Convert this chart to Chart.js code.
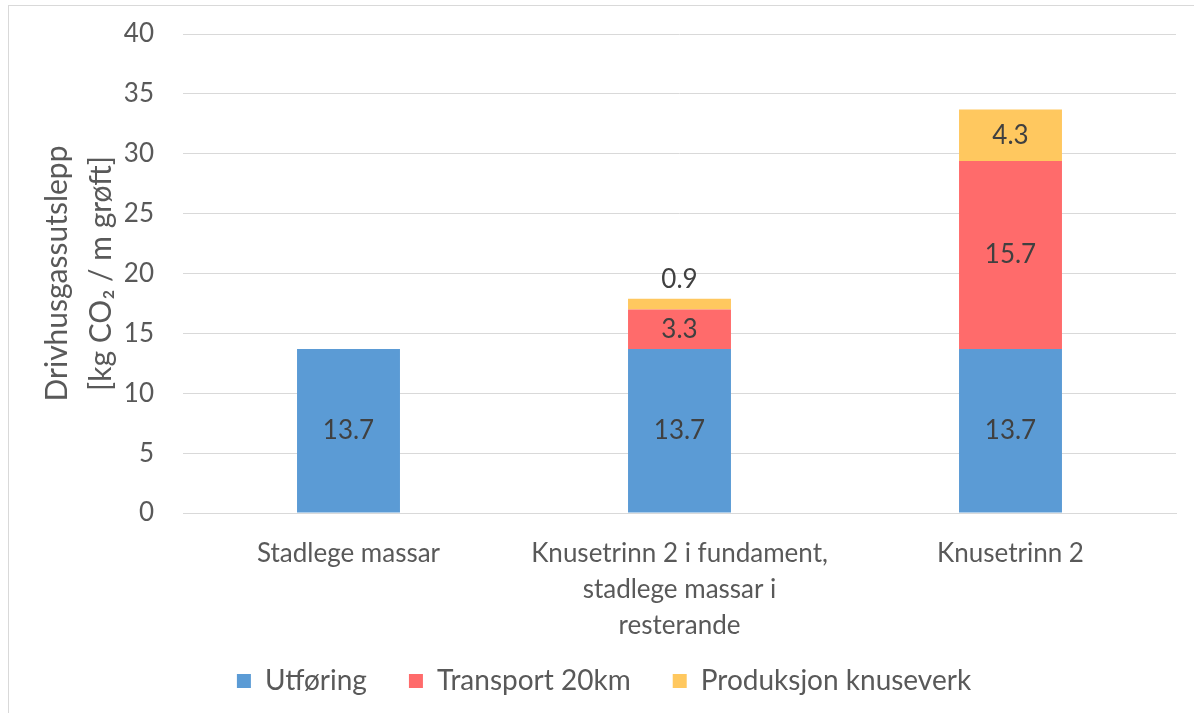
<!DOCTYPE html>
<html>
<head>
<meta charset="utf-8">
<script src="https://cdn.jsdelivr.net/npm/chart.js"></script>
<style>
  html, body { margin: 0; padding: 0; background: #fff; overflow: hidden; }
  #wrap { position: relative; width: 1194px; height: 740px; }
  #frame { position: absolute; left: 8px; top: 5px; width: 1300px; height: 800px;
           border-left: 1px solid #d9d9d9; border-top: 1px solid #d9d9d9; }
</style>
</head>
<body>
<div id="wrap">
  <div id="frame"></div>
  <canvas id="chart" width="1194" height="740"></canvas>
</div>
<script>
const categories = [
  ['Stadlege massar'],
  ['Knusetrinn 2 i fundament,', 'stadlege massar i', 'resterande'],
  ['Knusetrinn 2']
];
const utforing = [13.7, 13.7, 13.7];
const transport = [null, 3.3, 15.7];
const produksjon = [null, 0.9, 4.3];
const yTicks = [0, 5, 10, 15, 20, 25, 30, 35, 40];

const FONT = 'Lato, "Open Sans", sans-serif';

// labels inside the segments, small segments get the label above the stack
const segmentLabels = {
  id: 'segmentLabels',
  afterDatasetsDraw(chart) {
    const ctx = chart.ctx;
    ctx.save();
    ctx.font = '26px ' + FONT;
    ctx.fillStyle = '#404040';
    ctx.textAlign = 'center';
    ctx.textBaseline = 'middle';
    chart.data.datasets.forEach((ds, i) => {
      const meta = chart.getDatasetMeta(i);
      meta.data.forEach((bar, j) => {
        const v = ds.data[j];
        if (v == null) return;
        const h = Math.abs(bar.base - bar.y);
        let y = (bar.y + bar.base) / 2;
        if (h < 24) y = bar.y - 19;
        ctx.fillText(v.toFixed(1), bar.x, y);
      });
    });
    ctx.restore();
  }
};

// move the legend up and a little right, the x labels need a tall box (they are clipped to it)
const legendShift = {
  id: 'legendShift',
  afterLayout(chart) {
    const lg = chart.legend;
    lg.top -= 20;
    lg.bottom -= 20;
    lg.left += 16;
    lg.right += 16;
  }
};

new Chart(document.getElementById('chart'), {
  type: 'bar',
  data: {
    labels: categories,
    datasets: [
      { label: 'Utføring', data: utforing, backgroundColor: '#5B9BD5' },
      { label: 'Transport 20km', data: transport, backgroundColor: '#FF6B6B' },
      { label: 'Produksjon knuseverk', data: produksjon, backgroundColor: '#FFC85F' }
    ]
  },
  options: {
    responsive: false,
    animation: false,
    events: [],
    datasets: { bar: { categoryPercentage: 1, barPercentage: 0.311 } },
    layout: { padding: { left: 0, right: 18, top: 34, bottom: 15 } },
    plugins: {
      tooltip: { enabled: false },
      legend: {
        position: 'bottom',
        labels: {
          color: '#595959',
          font: { family: FONT, size: 28 },
          boxWidth: 14,
          boxHeight: 14,
          padding: 42
        }
      }
    },
    scales: {
      x: {
        stacked: true,
        grid: { display: false },
        border: { color: '#d9d9d9' },
        ticks: {
          color: '#595959',
          font: { family: FONT, size: 26, lineHeight: 1.38 },
          padding: 15,
          maxRotation: 0
        },
        afterFit(scale) { scale.height = 132; }
      },
      y: {
        stacked: true,
        min: 0,
        max: 40,
        afterBuildTicks(scale) { scale.ticks = yTicks.map(v => ({ value: v })); },
        grid: { color: '#d9d9d9', drawTicks: false },
        border: { display: false },
        ticks: {
          color: '#595959',
          font: { family: FONT, size: 26 },
          padding: 29
        },
        title: {
          display: true,
          text: ['Drivhusgassutslepp', '[kg CO₂ / m grøft]'],
          color: '#595959',
          font: { family: FONT, size: 30, lineHeight: 1.47 },
          padding: { top: 35, bottom: 0 }
        },
        afterFit(scale) {
          scale.width = 183;
          scale.paddingTop = 0;
          scale.paddingBottom = 0;
        }
      }
    }
  },
  plugins: [segmentLabels, legendShift]
});
</script>
</body>
</html>
